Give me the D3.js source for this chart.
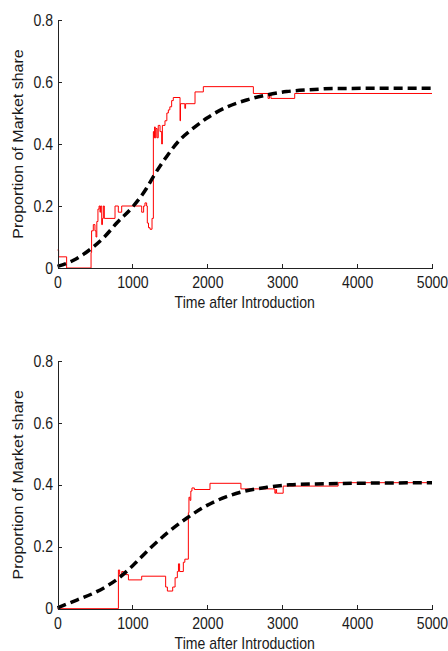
<!DOCTYPE html>
<html>
<head>
<meta charset="utf-8">
<script src="https://cdn.jsdelivr.net/npm/d3@7"></script>
<style>
	body { margin: 0; background: #fff; }
	svg text { font-family: "Liberation Sans", Arial, sans-serif; fill: #1a1a1a; }
</style>
</head>
<body>
<svg id="chart" width="448" height="651"></svg>
<script>
// x ticks / y ticks
var timeTicks = [0, 1000, 2000, 3000, 4000, 5000];
var shareTicks = [0, 0.2, 0.4, 0.6, 0.8];

// top panel: simulated share (step) and fitted curve
var topObserved = [
	[0, 0.058], [15, 0.036], [122, 0], [448, 0.05], [455, 0.12], [478, 0.14], [500, 0.12],
	[514, 0.1], [525, 0.15], [540, 0.19], [555, 0.2], [567, 0.18], [575, 0.2], [590, 0.14],
	[600, 0.16], [612, 0.2], [625, 0.16], [768, 0.2], [812, 0.18], [857, 0.2], [1124, 0.18],
	[1150, 0.2], [1168, 0.21], [1190, 0.2], [1199, 0.145], [1215, 0.13], [1235, 0.125],
	[1262, 0.16], [1280, 0.44], [1288, 0.42], [1296, 0.455], [1305, 0.42], [1315, 0.45],
	[1330, 0.42], [1345, 0.46], [1369, 0.44], [1391, 0.40], [1400, 0.46], [1435, 0.475],
	[1460, 0.5], [1480, 0.51], [1500, 0.52], [1524, 0.54], [1546, 0.55], [1636, 0.475],
	[1642, 0.53], [1700, 0.515], [1710, 0.53], [1836, 0.568], [1947, 0.585], [2615, 0.563],
	[2811, 0.547], [2830, 0.56], [2850, 0.547], [3167, 0.563], [5000, 0.563]
];
var topFitted = [
	[0, 0.005], [213, 0.025], [458, 0.064], [613, 0.097], [791, 0.145], [1013, 0.2],
	[1191, 0.258], [1280, 0.295], [1458, 0.36], [1636, 0.414], [1813, 0.451], [1991, 0.483],
	[2258, 0.519], [2524, 0.542], [2791, 0.558], [3058, 0.569], [3369, 0.575], [3680, 0.579],
	[5000, 0.58]
];

// bottom panel
var bottomObserved = [
	[0, 0], [813, 0.125], [830, 0.11], [858, 0.12], [880, 0.11], [947, 0.093], [1124, 0.105],
	[1444, 0.07], [1467, 0.057], [1538, 0.07], [1570, 0.1], [1600, 0.12], [1615, 0.145],
	[1630, 0.12], [1680, 0.15], [1700, 0.16], [1747, 0.31], [1755, 0.36], [1768, 0.35],
	[1780, 0.38], [1795, 0.39], [1827, 0.385], [2036, 0.405], [2449, 0.387], [2902, 0.373],
	[2915, 0.385], [2925, 0.373], [3013, 0.396], [3747, 0.407], [5000, 0.407]
];
var bottomFitted = [
	[0, 0.003], [258, 0.028], [524, 0.055], [813, 0.098], [1013, 0.141], [1236, 0.195],
	[1458, 0.243], [1724, 0.292], [1991, 0.333], [2258, 0.362], [2524, 0.381], [2791, 0.392],
	[3102, 0.4], [3458, 0.403], [5000, 0.407]
];

var svg = d3.select("#chart");
var squeeze = "scale(0.88,1)"; // glyphs in the original are a bit narrow

function drawPanel(top, bottom, observed, fitted){
	var left = 57.5, right = 432;

	var x = d3.scaleLinear().domain([0, 5000]).range([left, right]);
	var y = d3.scaleLinear().domain([0, 0.8]).range([bottom, top]);

	var g = svg.append("g");

	// observed share, red steps
	var step = d3.line()
		.curve(d3.curveStepAfter)
		.x(function(d){ return x(d[0]); })
		.y(function(d){ return y(d[1]); });
	g.append("path")
		.datum(observed)
		.attr("fill", "none")
		.attr("stroke", "#ff0000")
		.attr("stroke-width", 1)
		.attr("d", step);

	// fitted curve, thick black dashes
	var smooth = d3.line()
		.curve(d3.curveMonotoneX)
		.x(function(d){ return x(d[0]); })
		.y(function(d){ return y(d[1]); });
	g.append("path")
		.datum(fitted)
		.attr("fill", "none")
		.attr("stroke", "#000")
		.attr("stroke-width", 3.5)
		.attr("stroke-dasharray", "9,5")
		.attr("d", smooth);

	// axes, ticks pointing inward
	var xAxis = d3.axisBottom(x)
		.tickValues(timeTicks)
		.tickSizeInner(-4)
		.tickSizeOuter(0)
		.tickPadding(9)
		.tickFormat(d3.format("d"));
	var yAxis = d3.axisLeft(y)
		.tickValues(shareTicks)
		.tickSizeInner(-4)
		.tickSizeOuter(0)
		.tickPadding(5)
		.tickFormat(function(d){ return d === 0 ? "0" : d3.format(".1f")(d); });

	var gx = g.append("g")
		.attr("transform", "translate(0," + bottom + ")")
		.call(xAxis);
	var gy = g.append("g")
		.attr("transform", "translate(" + left + ",0)")
		.call(yAxis);

	[gx, gy].forEach(function(a){
		a.attr("font-family", null).attr("font-size", null);
		a.select(".domain").attr("stroke", "#222").attr("shape-rendering", "crispEdges");
		a.selectAll(".tick line").attr("stroke", "#222").attr("shape-rendering", "crispEdges");
		a.selectAll(".tick text")
			.style("font-size", "16px")
			.attr("transform", squeeze);
	});

	// axis titles
	g.append("text")
		.attr("transform", "translate(" + ((left + right) / 2) + "," + (bottom + 40) + ") " + squeeze)
		.attr("text-anchor", "middle")
		.style("font-size", "16px")
		.text("Time after Introduction");

	g.append("text")
		.attr("transform", "translate(22.5," + ((top + bottom) / 2) + ") " + squeeze + " rotate(-90)")
		.attr("text-anchor", "middle")
		.style("font-size", "16px")
		.text("Proportion of Market share");
}

drawPanel(20, 268, topObserved, topFitted);
drawPanel(361, 608.7, bottomObserved, bottomFitted);
</script>
</body>
</html>
